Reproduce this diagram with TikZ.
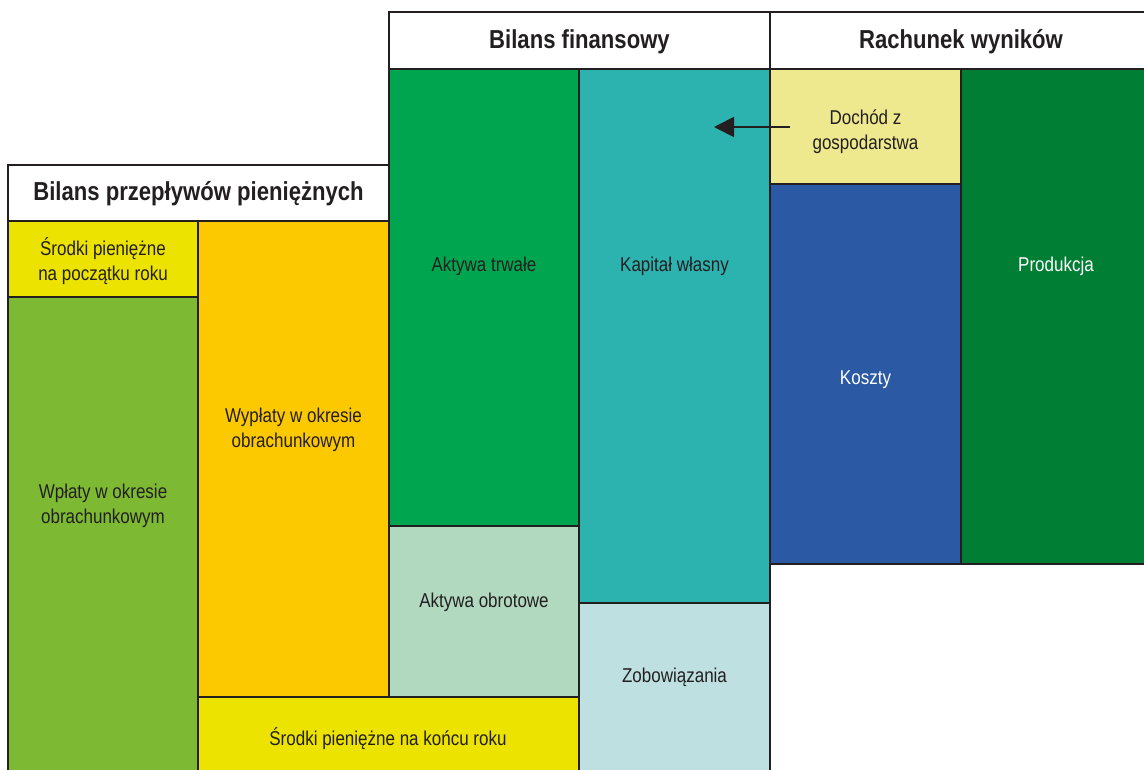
\documentclass[tikz,border=0pt]{standalone}
\usepackage{fontspec}
\setmainfont[FakeStretch=0.85]{Liberation Sans}
\usetikzlibrary{arrows.meta}
\definecolor{ink}{HTML}{231F20}
\definecolor{cashY}{HTML}{EDE300}
\definecolor{inflowG}{HTML}{7DB932}
\definecolor{outflowO}{HTML}{FCC800}
\definecolor{fixedG}{HTML}{00A54F}
\definecolor{currentG}{HTML}{B1D9BF}
\definecolor{equityT}{HTML}{2DB3AF}
\definecolor{liabT}{HTML}{BEE0E0}
\definecolor{incomeY}{HTML}{EEE88E}
\definecolor{costB}{HTML}{2C59A3}
\definecolor{prodG}{HTML}{007E33}
\tikzset{
  cell/.style={draw=ink, line width=1.8pt},
  headtxt/.style={font=\fontsize{26}{30}\selectfont\bfseries, text=ink, align=center},
  bodytxt/.style={font=\fontsize{20}{25}\selectfont, text=ink, align=center},
  whitetxt/.style={font=\fontsize{20}{25}\selectfont, text=white, align=center},
  flow/.style={draw=ink, line width=1.8pt, -{Triangle[length=20pt,width=20pt]}}
}
\begin{document}
\begin{tikzpicture}[x=1pt,y=-1pt]
\useasboundingbox (0,0) rectangle (1144,769);
\clip (0,0) rectangle (1144,769);
% column edges: 8, 198, 389, 579, 770, 961, 1152
% --- cash flow statement ---
\path[cell, fill=white]    (8,165)   rectangle (389,221);
\path[cell, fill=cashY]    (8,221)   rectangle (198,297);
\path[cell, fill=inflowG]  (8,297)   rectangle (198,790);
\path[cell, fill=outflowO] (198,221) rectangle (389,697);
\path[cell, fill=cashY]    (198,697) rectangle (579,790);
% --- balance sheet ---
\path[cell, fill=white]    (389,12)  rectangle (770,69);
\path[cell, fill=fixedG]   (389,69)  rectangle (579,526);
\path[cell, fill=currentG] (389,526) rectangle (579,697);
\path[cell, fill=equityT]  (579,69)  rectangle (770,603);
\path[cell, fill=liabT]    (579,603) rectangle (770,790);
% --- income statement ---
\path[cell, fill=white]    (770,12)  rectangle (1160,69);
\path[cell, fill=incomeY]  (770,69)  rectangle (961,184);
\path[cell, fill=costB]    (770,184) rectangle (961,564);
\path[cell, fill=prodG]    (961,69)  rectangle (1160,564);
% labels
\node[headtxt] (hcf) at (198.5,194) {Bilans przepływów pieniężnych};
\node[headtxt] (hbs) at (579.5,42) {Bilans finansowy};
\node[headtxt] (his) at (961,42) {Rachunek wyników};
\node[bodytxt] (cs) at (103,261) {Środki pieniężne\\na początku roku};
\node[bodytxt] (inf) at (103,506) {Wpłaty w okresie\\obrachunkowym};
\node[bodytxt] (outf) at (293.5,430) {Wypłaty w okresie\\obrachunkowym};
\node[bodytxt] (ce) at (388,739) {Środki pieniężne na końcu roku};
\node[bodytxt] (fa) at (484,266) {Aktywa trwałe};
\node[bodytxt] (ca) at (484,602) {Aktywa obrotowe};
\node[bodytxt] (eq) at (674.5,266) {Kapitał własny};
\node[bodytxt] (li) at (674.5,677) {Zobowiązania};
\node[bodytxt] (inc) at (865.5,132) {Dochód z\\gospodarstwa};
\node[whitetxt] (co) at (865.5,380) {Koszty};
\node[whitetxt] (pr) at (1056,266) {Produkcja};
% income flows into equity
\coordinate (flowS) at (790,127);
\coordinate (flowE) at (714,127);
\draw[flow] (flowS) -- (flowE);
\end{tikzpicture}
\end{document}
